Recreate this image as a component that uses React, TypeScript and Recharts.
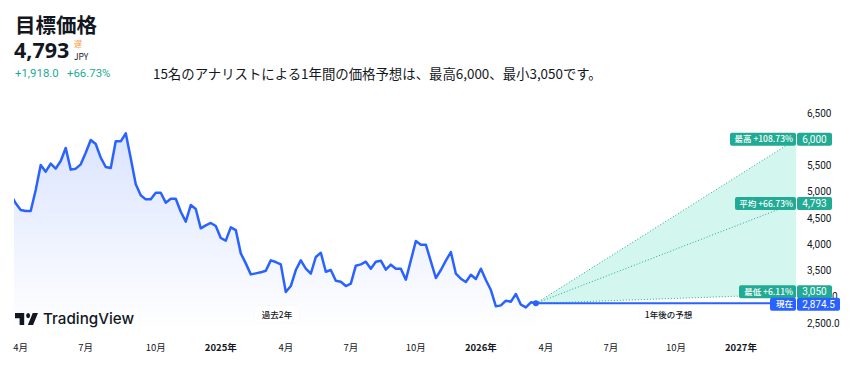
import React from "react";
import {
  ComposedChart,
  Area,
  Line,
  XAxis,
  YAxis,
  ReferenceDot,
} from "recharts";

const FONT = '"Noto Sans CJK JP", "Noto Sans", sans-serif';
const TICK_FONT = 'Roboto, "Noto Sans CJK JP", sans-serif';
const BLUE = "#2962ff";
const TEAL = "#22ab94";

// weekly closes, first one sits left of the clip edge
const priceValues = [
  4950, 4779, 4652, 4633, 4633, 5033, 5509, 5382, 5535, 5440, 5586, 5833, 5421, 5440, 5522, 5744,
  5986, 5910, 5649, 5471, 5452, 5960, 5960, 6113, 5636, 5141, 4932, 4855, 4855, 4982, 4982, 4792,
  4868, 4868, 4620, 4430, 4747, 4671, 4303, 4360, 4405, 4347, 4119, 4068, 4322, 4271, 3826, 3636,
  3426, 3445, 3465, 3496, 3693, 3661, 3617, 3090, 3204, 3509, 3693, 3534, 3439, 3757, 3839, 3477,
  3509, 3306, 3287, 3204, 3249, 3592, 3617, 3668, 3534, 3668, 3687, 3515, 3611, 3534, 3534, 3325,
  3693, 4061, 3992, 3992, 3674, 3357, 3509, 3687, 3852, 3439, 3344, 3280, 3420, 3338, 3534, 3319,
  3128, 2817, 2836, 2925, 2906, 3052, 2849, 2798, 2894, 2874.5,
];

const CURRENT = 2874.5;
const HIGH = 6000;
const AVERAGE = 4793;
const LOW = 3050;
const END_WEEK = 156;

// 3,000.0 is drawn separately so it can sit under the low badge; 6,000 is covered by the high badge
const yTicks = [2500, 3500, 4000, 4500, 5000, 5500, 6500];
const yTickLabels = ["2,500.0", "3,500", "4,000", "4,500", "5,000", "5,500", "6,500"];
const xTicks = [1, 14, 28, 41, 54, 67, 80, 93, 106, 119, 132, 145];
const xTickLabels = ["4月", "7月", "10月", "2025年", "4月", "7月", "10月", "2026年", "4月", "7月", "10月", "2027年"];

const badges = [
  { value: HIGH, left: "最高 +108.73%", right: "6,000", color: TEAL },
  { value: AVERAGE, left: "平均 +66.73%", right: "4,793", color: TEAL },
  { value: LOW, left: "最低 +6.11%", right: "3,050", color: TEAL },
  { value: CURRENT, left: "現在", right: "2,874.5", color: BLUE },
];

const BADGE_LEFT = [66, 61, 57, 26];
const BADGE_RIGHT = [35, 35, 35, 43];
const BADGE_SHIFT = [0, 1, -2.5, 1];

const lastWeek = priceValues.length - 2;

const chartData: any[] = priceValues.map((price, i) => {
  const week = i - 1;
  const row: any = { week, price };
  if (week === lastWeek) {
    row.high = price;
    row.avg = price;
    row.low = price;
    row.cur = price;
    row.range = [price, price];
  }
  return row;
});
chartData.push({ week: END_WEEK, high: HIGH, avg: AVERAGE, low: LOW, cur: CURRENT, range: [LOW, HIGH] });

function XTick({ x, y, index }: any) {
  const label = xTickLabels[index];
  return (
    <text
      x={x}
      y={y + 19}
      textAnchor="middle"
      fontFamily={FONT}
      fontSize={9.5}
      fontWeight={label.includes("年") ? 700 : 400}
      fill="#131722"
    >
      {label}
    </text>
  );
}

function YTick({ x, y, index }: any) {
  return (
    <text x={x + 9} y={y + 3.5} fontFamily={TICK_FONT} fontSize={10} fill="#131722">
      {yTickLabels[index]}
    </text>
  );
}

function HiddenTick({ cx, cy }: any) {
  return (
    <text x={cx + 9} y={cy + 3.5} fontFamily={TICK_FONT} fontSize={10} fill="#131722">
      3,000.0
    </text>
  );
}

function Badge({ cx, cy, index }: any) {
  const b = badges[index];
  const mid = cy + BADGE_SHIFT[index];
  const lw = BADGE_LEFT[index];
  const rw = BADGE_RIGHT[index];
  return (
    <g>
      <rect x={cx - lw} y={mid - 6.5} width={lw} height={13} rx={2} fill={b.color} />
      <rect x={cx + 1} y={mid - 6.5} width={rw} height={13} rx={2} fill={b.color} />
      <text
        x={cx - 3}
        y={mid + 3}
        textAnchor="end"
        fontFamily={FONT}
        fontSize={8.5}
        fontWeight={500}
        fill="#fff"
      >
        {b.left}
      </text>
      <text
        x={cx + 1 + rw / 2}
        y={mid + 3.5}
        textAnchor="middle"
        fontFamily={TICK_FONT}
        fontSize={10}
        fill="#fff"
      >
        {b.right}
      </text>
    </g>
  );
}

function Pill({ left, text, width }: { left: number; text: string; width: number }) {
  return (
    <div
      style={{
        position: "absolute",
        left,
        top: 306,
        width,
        height: 16,
        lineHeight: "16px",
        textAlign: "center",
        background: "#fff",
        borderRadius: 4,
        boxShadow: "0 0 3px rgba(19,23,34,0.04)",
        fontSize: 8.5,
        fontWeight: 500,
        color: "#131722",
      }}
    >
      {text}
    </div>
  );
}

export default function App() {
  return (
    <div
      style={{
        position: "absolute",
        left: 0,
        top: 0,
        width: 857,
        height: 366,
        background: "#fff",
        fontFamily: FONT,
        color: "#131722",
        overflow: "hidden",
      }}
    >
      <div style={{ position: "absolute", left: 15, top: 9, fontSize: 20.5, fontWeight: 700, lineHeight: "30px" }}>目標価格</div>
      <div style={{ position: "absolute", left: 14, top: 36, fontSize: 21.5, fontWeight: 700, lineHeight: "28px", fontFamily: '"Open Sans", sans-serif' }}>4,793</div>
      <div style={{ position: "absolute", left: 74, top: 38, fontSize: 8, lineHeight: "12px", color: "#ff9e42" }}>遅</div>
      <div style={{ position: "absolute", left: 74, top: 50, fontSize: 8.5, lineHeight: "12px" }}>JPY</div>
      <div style={{ position: "absolute", left: 15, top: 65, fontSize: 11.4, lineHeight: "16px", color: TEAL, fontFamily: TICK_FONT }}>+1,918.0</div>
      <div style={{ position: "absolute", left: 67, top: 65, fontSize: 11.4, lineHeight: "16px", color: TEAL, fontFamily: TICK_FONT }}>+66.73%</div>
      <div style={{ position: "absolute", left: 153, top: 64, fontSize: 13.4, lineHeight: "18px", whiteSpace: "nowrap" }}>
        15名のアナリストによる1年間の価格予想は、最高6,000、最小3,050です。
      </div>

      <ComposedChart
        width={857}
        height={366}
        data={chartData}
        margin={{ top: 113, right: 0, bottom: 0, left: 14 }}
        style={{ position: "absolute", left: 0, top: 0 }}
      >
        <defs>
          <linearGradient id="priceFill" x1="0" y1="0" x2="0" y2="1">
            <stop offset="0%" stopColor={BLUE} stopOpacity={0.17} />
            <stop offset="100%" stopColor={BLUE} stopOpacity={0} />
          </linearGradient>
        </defs>
        <XAxis
          dataKey="week"
          type="number"
          domain={[-0.34, END_WEEK]}
          allowDataOverflow
          ticks={xTicks}
          interval={0}
          height={36}
          axisLine={false}
          tickLine={false}
          tickSize={0}
          tick={<XTick />}
        />
        <YAxis
          orientation="right"
          type="number"
          domain={[2366.7, 6500]}
          allowDataOverflow
          ticks={yTicks}
          interval={0}
          width={61}
          axisLine={false}
          tickLine={false}
          tickSize={0}
          tick={<YTick />}
        />
        <Area dataKey="range" stroke="none" fill="#d3f6ee" fillOpacity={1} isAnimationActive={false} />
        <Line dataKey="high" stroke={TEAL} strokeWidth={1} strokeDasharray="1 2" dot={false} isAnimationActive={false} />
        <Line dataKey="avg" stroke={TEAL} strokeWidth={1} strokeDasharray="1 2" dot={false} isAnimationActive={false} />
        <Line dataKey="low" stroke={TEAL} strokeWidth={1} strokeDasharray="1 2" dot={false} isAnimationActive={false} />
        <Area dataKey="price" stroke="none" fill="url(#priceFill)" fillOpacity={1} isAnimationActive={false} />
        <Line dataKey="cur" stroke={BLUE} strokeWidth={2} dot={false} isAnimationActive={false} />
        <Line dataKey="price" stroke={BLUE} strokeWidth={2.5} strokeLinejoin="round" dot={false} isAnimationActive={false} />
        <ReferenceDot x={lastWeek} y={CURRENT} r={3} fill={BLUE} stroke="none" ifOverflow="visible" />
        <ReferenceDot x={END_WEEK} y={3000} ifOverflow="visible" shape={(props: any) => <HiddenTick {...props} />} />
        {badges.map((b, i) => (
          <ReferenceDot
            key={b.right}
            x={END_WEEK}
            y={b.value}
            ifOverflow="visible"
            shape={(props: any) => <Badge {...props} index={i} />}
          />
        ))}
      </ComposedChart>

      <svg style={{ position: "absolute", left: 15, top: 313 }} width={23} height={12} viewBox="0 6 35 14" preserveAspectRatio="none">
        <path d="M14 6H0v6h7v8h7V6Z" fill="#131722" />
        <circle cx="20" cy="9" r="3" fill="#131722" />
        <path d="M27 6h8l-7.5 14h-8L27 6Z" fill="#131722" />
      </svg>
      <div style={{ position: "absolute", left: 43, top: 308, fontFamily: "Inter, sans-serif", fontSize: 15.2, fontWeight: 500, lineHeight: "22px" }}>TradingView</div>
      <Pill left={255} width={44} text="過去2年" />
      <Pill left={640} width={57} text="1年後の予想" />
    </div>
  );
}
